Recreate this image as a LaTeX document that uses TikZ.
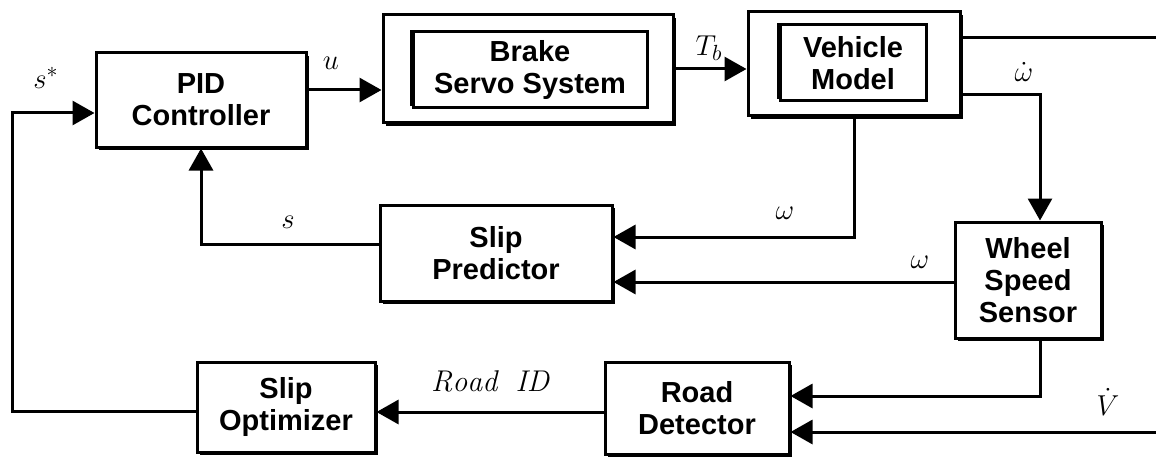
\documentclass[tikz,border=0pt]{standalone}
\usepackage{amsmath}
\usepackage{fontspec}
\newfontfamily\boxfont{Liberation Sans}
\usepackage{tikz}
\usetikzlibrary{arrows.meta,shadows}

\begin{document}
\begin{tikzpicture}[
  x=0.5pt, y=-0.5pt,
  line width=1.5pt,
  blk/.style={draw, fill=white, align=center, inner sep=0pt,
    font=\boxfont\bfseries\fontsize{14.5}{16}\selectfont,
    drop shadow={shadow xshift=1.6pt, shadow yshift=-1.6pt, fill=black, opacity=1}},
  inblk/.style={draw, fill=white, align=center, inner sep=0pt,
    font=\boxfont\bfseries\fontsize{14.5}{16}\selectfont,
    drop shadow={shadow xshift=-1.4pt, shadow yshift=1.2pt, fill=black, opacity=1}},
  arr/.style={-{Triangle[length=11pt,width=12pt]}},
  lbl/.style={font=\fontsize{15}{17}\selectfont}
]
\useasboundingbox (0,0) rectangle (1156,460);

% blocks
\node[blk, minimum width=105pt, minimum height=47pt] (pid) at (201,100) {PID\\Controller};
\node[blk, minimum width=145pt, minimum height=54pt] (brakeout) at (528,69) {};
\node[inblk, minimum width=117pt, minimum height=38pt] (brake) at (530,70) {Brake\\Servo System};
\node[blk, minimum width=106pt, minimum height=52pt] (vehout) at (854,64) {};
\node[inblk, minimum width=73pt, minimum height=38pt] (veh) at (853,63) {Vehicle\\Model};
\node[blk, minimum width=116pt, minimum height=48pt] (pred) at (496,253) {Slip\\Predictor};
\node[blk, minimum width=73pt, minimum height=58pt] (wss) at (1028,280) {Wheel\\Speed\\Sensor};
\node[blk, minimum width=92pt, minimum height=46pt] (road) at (697,408) {Road\\Detector};
\node[blk, minimum width=89pt, minimum height=45pt] (opt) at (286,407) {Slip\\Optimizer};

% free ends
\coordinate (vout) at (1156,38);
\coordinate (vin) at (1156,432);
\coordinate (lft) at (12,0);

% connectors
\draw[arr] ([yshift=5pt]pid.east) -- ([yshift=5pt]pid.east -| brakeout.west);
\draw[arr] (brakeout.east) -- (brakeout.east -| vehout.west);
\draw (vehout.east |- vout) -- (vout);
\draw[arr] ([yshift=-15.5pt]vehout.east) -| ([xshift=6pt]wss.north);
\draw[arr] (vehout.south) |- ([yshift=8pt]pred.east);
\draw[arr] ([yshift=-14.5pt]pred.east -| wss.west) -- ([yshift=-14.5pt]pred.east);
\draw[arr] ([yshift=4.5pt]pred.west) -| (pid.south);
\draw[arr] ([xshift=6pt]wss.south) |- ([yshift=6pt]road.east);
\draw[arr] (vin) -- (vin -| road.east);
\draw[arr] ([yshift=-2pt]road.west) -- ([yshift=-2pt]road.west -| opt.east);
\draw[arr] ([yshift=-2pt]opt.west) -- ([yshift=-2pt]opt.west -| lft) |- ([yshift=-6.5pt]pid.west);

% signal labels
\node[lbl] (lu) at (331,63) {$u$};
\node[lbl] (ltb) at (709,48) {$T_b$};
\node[lbl] (lsr) at (46,78) {$s^{*}$};
\node[lbl] (lwd) at (1024,72) {$\dot{\omega}$};
\node[lbl] (lw1) at (785,213) {$\omega$};
\node[lbl] (lw2) at (920,262) {$\omega$};
\node[lbl] (ls) at (288,222) {$s$};
\node[lbl] (lrid) at (490,381) {$\mathit{Road\ \ ID}$};
\node[lbl] (lvd) at (1108,402) {$\dot{V}$};
\end{tikzpicture}
\end{document}
